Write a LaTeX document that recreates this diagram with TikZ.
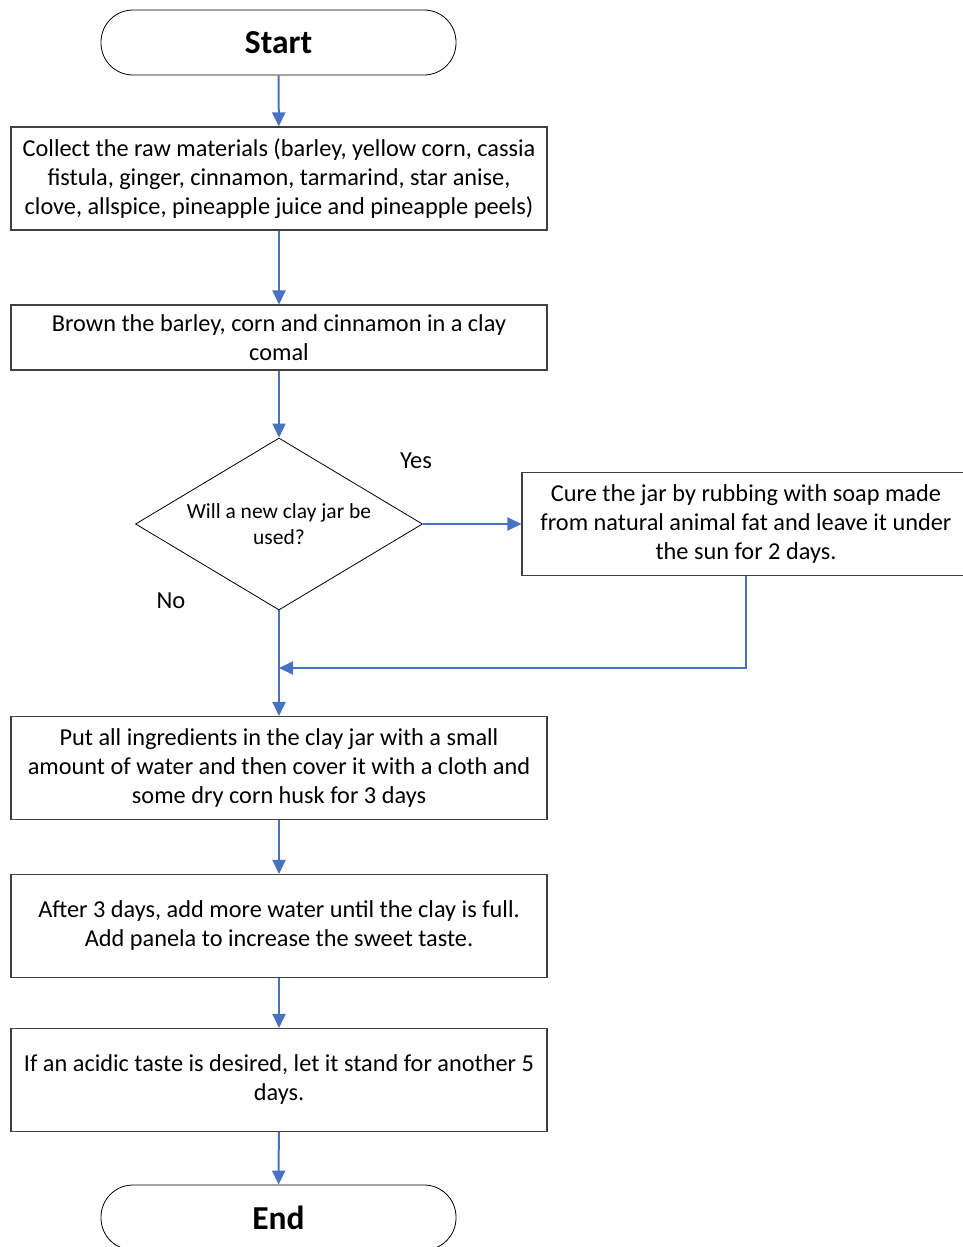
\documentclass[tikz,border=0pt]{standalone}
\usepackage{fontspec}
\setmainfont{Carlito}
\usetikzlibrary{arrows.meta, positioning, shapes.geometric}
\definecolor{Flow_Blue}{HTML}{4472C4}
\definecolor{Box_Gray}{HTML}{404040}

\begin{document}
\begin{tikzpicture}[x=1pt, y=-1pt,
    procbox/.style={draw=Box_Gray, line width=1.1pt, minimum width=536pt, minimum height=103pt,
        inner sep=0pt, align=center, font=\fontsize{24.3}{29}\selectfont},
    termbox/.style={draw=black, line width=0.8pt, rounded corners=32pt, minimum width=355pt,
        minimum height=65pt, inner sep=0pt, font=\fontsize{33.5}{38}\selectfont\bfseries},
    flow/.style={Flow_Blue, line width=2pt, -{Triangle[width=13pt, length=14pt]}}
]
    \useasboundingbox (0,0) rectangle (963,1247);
    % terminals and steps
    \node[termbox] (start) at (278.5,42.5) {Start};
    \node[procbox] (collect) at (279,178.5) {Collect the raw materials (barley, yellow corn, cassia\\
        fistula, ginger, cinnamon, tarmarind, star anise,\\
        clove, allspice, pineapple juice and pineapple peels)};
    \node[procbox, minimum height=65pt] (brown) at (279,337.5) {Brown the barley, corn and cinnamon in a clay\\ comal};
    \node[draw=black, line width=0.8pt, shape=diamond, aspect=1.67, minimum width=287pt, minimum height=172pt,
        inner sep=0pt, align=center, font=\fontsize{21.5}{26}\selectfont] (newjar) at (279,524)
        {Will a new clay jar be\\ used?};
    \node[procbox, minimum width=448pt] (cure) at (746,524) {Cure the jar by rubbing with soap made\\
        from natural animal fat and leave it under\\ the sun for 2 days.};
    \node[procbox] (putall) at (279,768) {Put all ingredients in the clay jar with a small\\
        amount of water and then cover it with a cloth and\\ some dry corn husk for 3 days};
    \node[procbox] (addwater) at (279,926) {After 3 days, add more water until the clay is full.\\
        Add panela to increase the sweet taste.};
    \node[procbox] (stand) at (279,1080) {If an acidic taste is desired, let it stand for another 5\\ days.};
    \node[termbox] (end) at (278.5,1217.5) {End};
    % branch labels
    \node[font=\fontsize{24.5}{28}\selectfont] (yes) at (416,461) {Yes};
    \node[font=\fontsize{24.5}{28}\selectfont] (no) at (171,601) {No};
    \coordinate (join) at (279,668);
    % connectors
    \draw[flow] (start) -- (collect);
    \draw[flow] (collect) -- (brown);
    \draw[flow] (brown) -- (newjar);
    \draw[flow] (newjar) -- (cure);
    \draw[flow] (newjar) -- (putall);
    \draw[flow] (cure.south) |- (join);
    \draw[flow] (putall) -- (addwater);
    \draw[flow] (addwater) -- (stand);
    \draw[flow] (stand) -- (end);
\end{tikzpicture}
\end{document}
